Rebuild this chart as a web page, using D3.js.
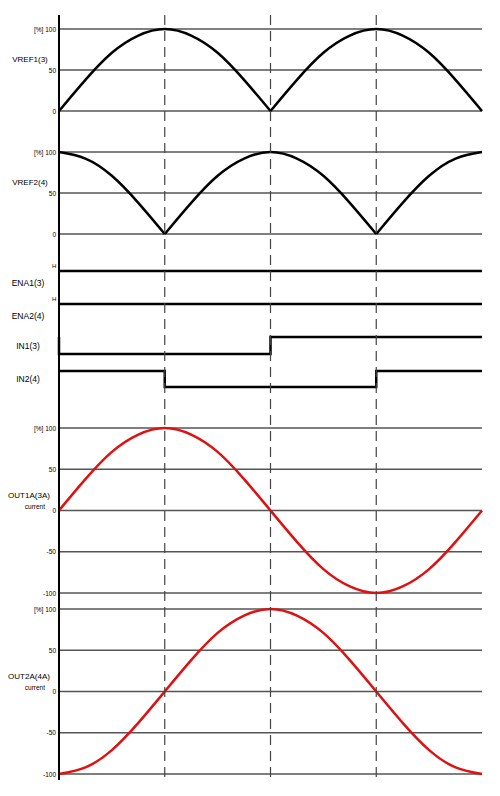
<!DOCTYPE html>
<html>
<head>
<meta charset="utf-8">
<script src="https://cdn.jsdelivr.net/npm/d3@7"></script>
<style>body{margin:0;background:#fff}text{font-family:"Liberation Sans",Arial,sans-serif}</style>
</head>
<body>
<div id="viz"></div>
<script>
// samples every 1/4 quarter period
const vref1Full = [0,38,71,92,100,92,71,38,0,38,71,92,100,92,71,38,0]
const vref2Full = [100,92,71,38,0,38,71,92,100,92,71,38,0,38,71,92,100]
const out1 = [0,38,71,92,100,92,71,38,0,-38,-71,-92,-100,-92,-71,-38,0]
const out2 = [-100,-92,-71,-38,0,38,71,92,100,92,71,38,0,-38,-71,-92,-100]
const in1 = [[0,1],[0,0],[2,1],[4,1]]
const in2 = [[0,1],[1,0],[3,1],[4,1]]
const ena = [[0,1],[4,1]]
const pctTicks = [0, 50, 100]
const signedTicks = [-100, -50, 0, 50, 100]

const width = 500, height = 796
const svg = d3.select("#viz").append("svg").attr("width", width).attr("height", height)
const x = d3.scaleLinear().domain([0, 4]).range([59, 482])
const sampleX = vref1Full.map((d, i) => i * 0.25)

const grid = "#555"

// split a rectified wave into arches at its zero cusps
function arches(values, rectified) {
  const pts = values.map((v, i) => [sampleX[i], v])
  if (!rectified) return [pts]
  const out = []
  let cur = []
  pts.forEach((p, i) => {
    cur.push(p)
    if (p[1] === 0 && cur.length > 1) { out.push(cur); cur = [p] }
  })
  if (cur.length > 1) out.push(cur)
  return out
}

function panel(y0, y1, domain, ticks, values, color, label, sub) {
  const y = d3.scaleLinear().domain(domain).range([y1, y0])
  svg.append("g").selectAll("line").data(ticks).join("line")
    .attr("x1", x(0)).attr("x2", x(4)).attr("y1", d => y(d)).attr("y2", d => y(d))
    .attr("stroke", grid).attr("stroke-width", 1.5)
  svg.append("g").selectAll("text").data(ticks).join("text")
    .attr("x", 56).attr("y", d => y(d) + 2.5).attr("text-anchor", "end")
    .attr("font-size", 6.5).text(d => d === domain[1] ? "[%] " + d : d)
  const line = d3.line().x(d => x(d[0])).y(d => y(d[1])).curve(d3.curveNatural)
  svg.append("g").selectAll("path").data(arches(values, !sub)).join("path")
    .attr("d", line).attr("fill", "none")
    .attr("stroke", color).attr("stroke-width", 2.5)
  const ly = sub ? y(0) - 13 : (y0 + y1) / 2 - 8
  svg.append("text").attr("x", sub ? 29 : 30).attr("y", ly).attr("text-anchor", "middle")
    .attr("font-size", 8).text(label)
  if (sub) svg.append("text").attr("x", 45).attr("y", ly + 11).attr("text-anchor", "end")
    .attr("font-size", 6.5).text(sub)
}
panel(29, 111, [0, 100], pctTicks, vref1Full, "#000", "VREF1(3)")
panel(152, 234, [0, 100], pctTicks, vref2Full, "#000", "VREF2(4)")
panel(428, 593, [-100, 100], signedTicks, out1, "#e01010", "OUT1A(3A)", "current")
panel(609, 774, [-100, 100], signedTicks, out2, "#e01010", "OUT2A(4A)", "current")

// digital signals
function digital(yHigh, yLow, pts, label, showH) {
  const y = d3.scaleLinear().domain([0, 1]).range([yLow, yHigh])
  const line = d3.line().x(d => x(d[0])).y(d => y(d[1])).curve(d3.curveStepAfter)
  svg.append("path").attr("d", line(pts)).attr("fill", "none")
    .attr("stroke", "#000").attr("stroke-width", 2.5)
  svg.append("text").attr("x", 28).attr("y", (showH ? yHigh + 15 : (yHigh + yLow) / 2 + 3))
    .attr("text-anchor", "middle").attr("font-size", 8.5).text(label)
  if (showH) svg.append("text").attr("x", 52).attr("y", yHigh - 3).attr("font-size", 6).text("H")
}
digital(271, 281, ena, "ENA1(3)", true)
digital(304, 314, ena, "ENA2(4)", true)
digital(337, 354, in1, "IN1(3)")
digital(371, 387, in2, "IN2(4)")

// dashed phase markers
svg.append("g").selectAll("line").data([1, 2, 3]).join("line")
  .attr("x1", d => x(d)).attr("x2", d => x(d)).attr("y1", 15).attr("y2", 780)
  .attr("stroke", "#444").attr("stroke-width", 1.2).attr("stroke-dasharray", "10,6")

// left axis
svg.append("line").attr("x1", x(0)).attr("x2", x(0)).attr("y1", 15).attr("y2", 780)
  .attr("stroke", "#000").attr("stroke-width", 2)
</script>
</body>
</html>
